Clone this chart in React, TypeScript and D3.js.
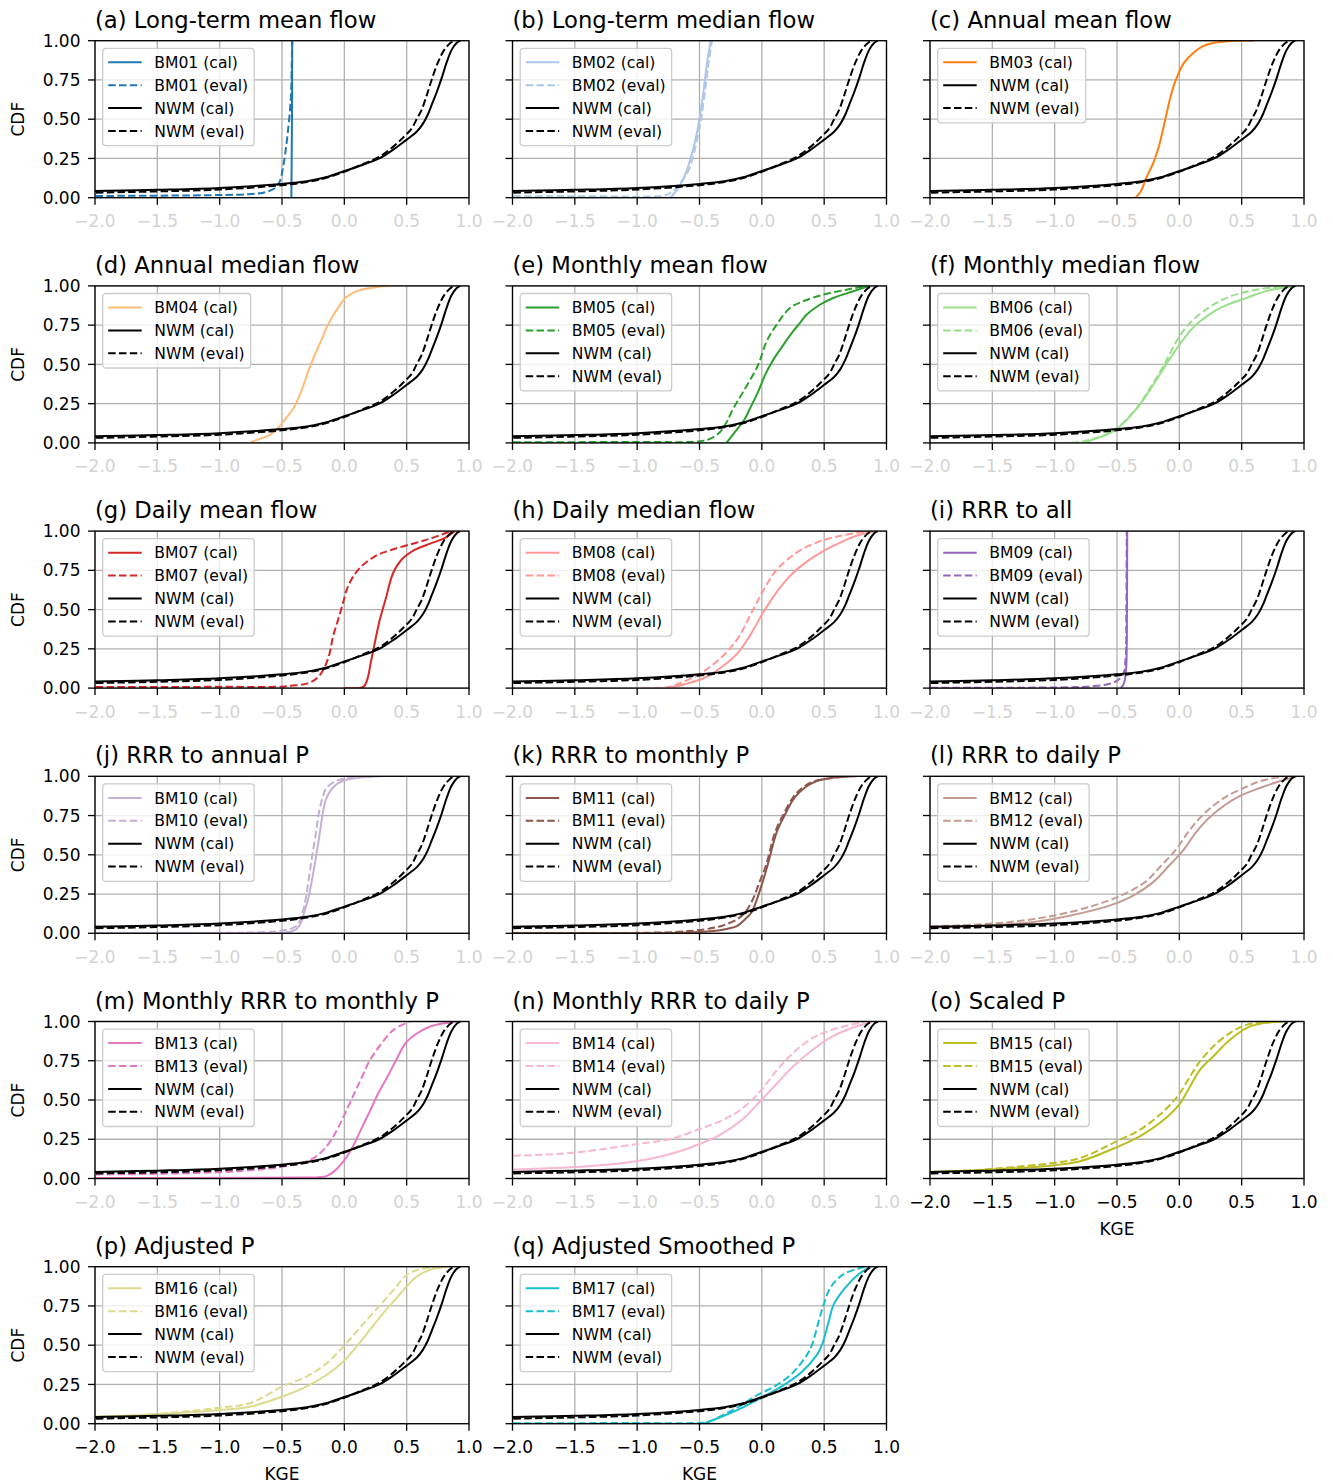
import React, { useEffect, useRef } from 'react';
import * as d3 from 'd3';

type Pt = [number, number];

// KGE / CDF pairs
const nwmCal: Pt[] = [[-2.6, 0.03], [-2, 0.042], [-1.5, 0.05], [-1, 0.062], [-0.5, 0.088], [-0.3, 0.105], [-0.15, 0.13], [0, 0.17], [0.15, 0.21], [0.28, 0.25], [0.4, 0.31], [0.5, 0.37], [0.58, 0.42], [0.63, 0.47], [0.67, 0.53], [0.7, 0.59], [0.74, 0.67], [0.78, 0.76], [0.82, 0.86], [0.86, 0.94], [0.9, 0.985], [0.93, 1.0]];
const nwmEval: Pt[] = [[-2.6, 0.02], [-2, 0.032], [-1.5, 0.04], [-1, 0.052], [-0.5, 0.08], [-0.3, 0.1], [-0.15, 0.125], [0, 0.165], [0.15, 0.215], [0.28, 0.26], [0.4, 0.33], [0.48, 0.39], [0.54, 0.44], [0.58, 0.5], [0.62, 0.56], [0.66, 0.65], [0.7, 0.75], [0.75, 0.86], [0.8, 0.94], [0.85, 0.985], [0.88, 1.0]];

const bm01Cal: Pt[] = [[-0.425, 0], [-0.42, 0.5], [-0.418, 1.0]];
const bm01Eval: Pt[] = [[-2.6, 0.01], [-2, 0.011], [-1, 0.017], [-0.75, 0.023], [-0.62, 0.038], [-0.56, 0.06], [-0.52, 0.1], [-0.49, 0.2], [-0.463, 0.35], [-0.43, 0.62], [-0.422, 0.85], [-0.418, 1.0]];
const bm02Cal: Pt[] = [[-0.735, 0], [-0.7, 0.03], [-0.667, 0.064], [-0.603, 0.171], [-0.547, 0.321], [-0.517, 0.428], [-0.474, 0.642], [-0.44, 0.857], [-0.41, 1.0]];
const bm02Eval: Pt[] = [[-2.6, 0.01], [-1.5, 0.01], [-0.8, 0.011], [-0.76, 0.02], [-0.7, 0.05], [-0.65, 0.1], [-0.59, 0.171], [-0.504, 0.428], [-0.462, 0.642], [-0.427, 0.857], [-0.4, 1.0]];
const bm03Cal: Pt[] = [[-0.35, 0], [-0.307, 0.043], [-0.264, 0.128], [-0.213, 0.214], [-0.166, 0.321], [-0.114, 0.493], [-0.071, 0.642], [-0.028, 0.75], [0.036, 0.857], [0.109, 0.92], [0.186, 0.964], [0.272, 0.985], [0.443, 1.0], [0.6, 1.0]];
const bm04Cal: Pt[] = [[-0.75, 0.005], [-0.7, 0.02], [-0.608, 0.047], [-0.538, 0.09], [-0.493, 0.133], [-0.41, 0.219], [-0.347, 0.326], [-0.27, 0.498], [-0.188, 0.648], [-0.13, 0.755], [-0.048, 0.863], [0.015, 0.927], [0.11, 0.97], [0.3, 0.997], [0.35, 1.0]];
const bm05Cal: Pt[] = [[-0.283, 0], [-0.217, 0.068], [-0.136, 0.154], [-0.096, 0.218], [-0.03, 0.325], [0.03, 0.44], [0.1, 0.54], [0.16, 0.61], [0.25, 0.71], [0.305, 0.763], [0.358, 0.816], [0.465, 0.88], [0.572, 0.923], [0.733, 0.966], [0.866, 1.0]];
const bm05Eval: Pt[] = [[-2.6, 0.004], [-1.0, 0.006], [-0.497, 0.01], [-0.417, 0.026], [-0.337, 0.068], [-0.283, 0.132], [-0.23, 0.218], [-0.15, 0.325], [-0.03, 0.496], [0.037, 0.645], [0.118, 0.752], [0.225, 0.859], [0.332, 0.902], [0.492, 0.944], [0.679, 0.976], [0.84, 1.0]];
const bm06Cal: Pt[] = [[-0.76, 0.002], [-0.7, 0.02], [-0.6, 0.047], [-0.5, 0.09], [-0.34, 0.22], [-0.245, 0.326], [-0.105, 0.5], [0.023, 0.65], [0.138, 0.755], [0.33, 0.86], [0.55, 0.927], [0.71, 0.97], [0.935, 1.0]];
const bm06Eval: Pt[] = [[-2.6, 0.004], [-0.8, 0.005], [-0.72, 0.02], [-0.6, 0.05], [-0.5, 0.095], [-0.34, 0.225], [-0.25, 0.33], [-0.12, 0.5], [-0.02, 0.65], [0.074, 0.755], [0.233, 0.86], [0.39, 0.927], [0.58, 0.97], [0.84, 1.0]];
const bm07Cal: Pt[] = [[0.0, 0.0], [0.135, 0.002], [0.162, 0.015], [0.189, 0.068], [0.21, 0.154], [0.237, 0.26], [0.283, 0.43], [0.336, 0.58], [0.39, 0.73], [0.457, 0.816], [0.564, 0.88], [0.698, 0.923], [0.804, 0.955], [0.885, 1.0]];
const bm07Eval: Pt[] = [[-2.6, 0.006], [-1.0, 0.008], [-0.507, 0.009], [-0.427, 0.015], [-0.293, 0.03], [-0.213, 0.068], [-0.159, 0.132], [-0.119, 0.218], [-0.092, 0.325], [-0.052, 0.43], [-0.012, 0.538], [0.028, 0.645], [0.109, 0.752], [0.242, 0.838], [0.376, 0.88], [0.564, 0.923], [0.698, 0.955], [0.858, 1.0]];
const bm08Cal: Pt[] = [[-0.74, 0.002], [-0.611, 0.026], [-0.452, 0.069], [-0.325, 0.133], [-0.197, 0.22], [-0.102, 0.326], [0.025, 0.5], [0.153, 0.648], [0.28, 0.755], [0.471, 0.863], [0.63, 0.927], [0.758, 0.97], [0.917, 1.0]];
const bm08Eval: Pt[] = [[-2.6, 0.004], [-0.76, 0.005], [-0.675, 0.026], [-0.548, 0.069], [-0.42, 0.133], [-0.293, 0.22], [-0.185, 0.326], [-0.07, 0.5], [0.03, 0.648], [0.12, 0.755], [0.28, 0.863], [0.44, 0.927], [0.63, 0.97], [0.854, 1.0]];
const bm09Cal: Pt[] = [[-0.47, 0.002], [-0.45, 0.02], [-0.435, 0.06], [-0.425, 0.15], [-0.42, 0.5], [-0.418, 1.0]];
const bm09Eval: Pt[] = [[-2.6, 0.004], [-0.9, 0.005], [-0.7, 0.012], [-0.564, 0.026], [-0.5, 0.047], [-0.45, 0.09], [-0.43, 0.2], [-0.425, 0.5], [-0.422, 1.0]];
const bm10Cal: Pt[] = [[-2.6, 0.001], [-0.6, 0.002], [-0.46, 0.006], [-0.385, 0.026], [-0.347, 0.069], [-0.322, 0.133], [-0.29, 0.22], [-0.239, 0.43], [-0.195, 0.648], [-0.175, 0.755], [-0.143, 0.863], [-0.093, 0.927], [-0.017, 0.97], [0.11, 0.99], [0.3, 1.0]];
const bm10Eval: Pt[] = [[-2.6, 0.004], [-0.7, 0.006], [-0.525, 0.015], [-0.385, 0.047], [-0.335, 0.133], [-0.31, 0.22], [-0.27, 0.43], [-0.226, 0.648], [-0.207, 0.755], [-0.175, 0.863], [-0.143, 0.927], [-0.067, 0.97], [0.047, 0.99], [0.24, 1.0]];
const bm11Cal: Pt[] = [[-2.6, 0.002], [-0.64, 0.004], [-0.39, 0.015], [-0.293, 0.026], [-0.197, 0.047], [-0.134, 0.09], [-0.083, 0.133], [-0.038, 0.22], [0.006, 0.326], [0.045, 0.43], [0.121, 0.648], [0.185, 0.755], [0.261, 0.863], [0.344, 0.927], [0.44, 0.97], [0.567, 0.99], [0.758, 1.0]];
const bm11Eval: Pt[] = [[-2.6, 0.004], [-0.7, 0.008], [-0.452, 0.026], [-0.325, 0.047], [-0.197, 0.09], [-0.134, 0.133], [-0.07, 0.22], [-0.019, 0.326], [0.032, 0.43], [0.108, 0.648], [0.172, 0.755], [0.248, 0.863], [0.325, 0.927], [0.427, 0.97], [0.694, 1.0]];
const bm12Cal: Pt[] = [[-2.6, 0.025], [-2, 0.036], [-1.585, 0.047], [-1.2, 0.069], [-0.88, 0.112], [-0.56, 0.176], [-0.37, 0.24], [-0.21, 0.326], [-0.083, 0.43], [0.042, 0.54], [0.138, 0.648], [0.266, 0.755], [0.457, 0.863], [0.65, 0.927], [0.81, 0.97], [0.936, 1.0]];
const bm12Eval: Pt[] = [[-2.6, 0.03], [-2, 0.043], [-1.394, 0.069], [-1.01, 0.112], [-0.69, 0.176], [-0.47, 0.24], [-0.275, 0.326], [-0.147, 0.43], [-0.02, 0.54], [0.074, 0.648], [0.19, 0.755], [0.36, 0.863], [0.52, 0.927], [0.65, 0.97], [0.84, 1.0]];
const bm13Cal: Pt[] = [[-2.6, 0.004], [-0.3, 0.006], [-0.207, 0.008], [-0.144, 0.015], [-0.08, 0.047], [0.015, 0.133], [0.079, 0.22], [0.142, 0.326], [0.206, 0.43], [0.27, 0.54], [0.346, 0.648], [0.416, 0.755], [0.492, 0.863], [0.587, 0.927], [0.695, 0.97], [0.905, 1.0]];
const bm13Eval: Pt[] = [[-2.6, 0.022], [-2, 0.026], [-1.48, 0.03], [-0.84, 0.047], [-0.46, 0.08], [-0.27, 0.12], [-0.175, 0.176], [-0.11, 0.24], [-0.048, 0.326], [0.015, 0.43], [0.079, 0.54], [0.142, 0.648], [0.206, 0.755], [0.301, 0.863], [0.397, 0.948], [0.524, 1.0]];
const bm14Cal: Pt[] = [[-2.6, 0.045], [-2, 0.058], [-1.5, 0.073], [-0.994, 0.112], [-0.739, 0.155], [-0.497, 0.22], [-0.325, 0.283], [-0.166, 0.369], [-0.006, 0.498], [0.121, 0.605], [0.248, 0.712], [0.408, 0.82], [0.567, 0.905], [0.726, 0.96], [0.885, 1.0]];
const bm14Eval: Pt[] = [[-2.6, 0.13], [-2, 0.144], [-1.5, 0.165], [-0.994, 0.22], [-0.739, 0.25], [-0.497, 0.316], [-0.325, 0.369], [-0.166, 0.44], [-0.006, 0.562], [0.121, 0.69], [0.248, 0.798], [0.408, 0.895], [0.567, 0.948], [0.822, 1.0]];
const bm15Cal: Pt[] = [[-2.6, 0.035], [-2, 0.042], [-1.5, 0.057], [-1.0, 0.085], [-0.796, 0.11], [-0.5, 0.2], [-0.314, 0.27], [-0.154, 0.355], [-0.047, 0.43], [0.007, 0.48], [0.087, 0.588], [0.167, 0.694], [0.275, 0.78], [0.408, 0.885], [0.542, 0.96], [0.676, 0.99], [0.863, 1.0]];
const bm15Eval: Pt[] = [[-2.6, 0.03], [-2, 0.036], [-1.5, 0.062], [-1.0, 0.1], [-0.796, 0.13], [-0.5, 0.238], [-0.314, 0.312], [-0.154, 0.408], [-0.047, 0.493], [0.007, 0.546], [0.087, 0.652], [0.167, 0.747], [0.275, 0.843], [0.408, 0.928], [0.542, 0.98], [0.756, 1.0]];
const bm16Cal: Pt[] = [[-2.6, 0.035], [-2, 0.045], [-1.5, 0.06], [-1.0, 0.087], [-0.758, 0.108], [-0.5, 0.172], [-0.304, 0.236], [-0.143, 0.31], [-0.01, 0.395], [0.097, 0.49], [0.204, 0.597], [0.311, 0.703], [0.418, 0.799], [0.498, 0.873], [0.578, 0.936], [0.685, 0.98], [0.819, 1.0]];
const bm16Eval: Pt[] = [[-2.6, 0.025], [-2, 0.034], [-1.5, 0.062], [-1.0, 0.102], [-0.758, 0.13], [-0.5, 0.236], [-0.304, 0.3], [-0.143, 0.384], [-0.01, 0.49], [0.097, 0.586], [0.204, 0.682], [0.311, 0.777], [0.418, 0.873], [0.498, 0.947], [0.605, 0.983], [0.738, 1.0]];
const bm17Cal: Pt[] = [[-0.47, 0.0], [-0.36, 0.032], [-0.173, 0.096], [-0.066, 0.139], [0.028, 0.18], [0.175, 0.246], [0.32, 0.33], [0.443, 0.44], [0.483, 0.503], [0.537, 0.653], [0.577, 0.76], [0.67, 0.867], [0.778, 0.953], [0.87, 1.0]];
const bm17Eval: Pt[] = [[-2.6, 0.003], [-1.0, 0.004], [-0.5, 0.005], [-0.44, 0.01], [-0.213, 0.096], [-0.04, 0.18], [0.12, 0.246], [0.255, 0.33], [0.363, 0.44], [0.403, 0.503], [0.456, 0.653], [0.497, 0.76], [0.55, 0.867], [0.657, 0.953], [0.83, 1.0]];

const panelTitles = [
  '(a) Long-term mean flow', '(b) Long-term median flow', '(c) Annual mean flow',
  '(d) Annual median flow', '(e) Monthly mean flow', '(f) Monthly median flow',
  '(g) Daily mean flow', '(h) Daily median flow', '(i) RRR to all',
  '(j) RRR to annual P', '(k) RRR to monthly P', '(l) RRR to daily P',
  '(m) Monthly RRR to monthly P', '(n) Monthly RRR to daily P', '(o) Scaled P',
  '(p) Adjusted P', '(q) Adjusted Smoothed P',
];
const bmNames = ['BM01', 'BM02', 'BM03', 'BM04', 'BM05', 'BM06', 'BM07', 'BM08', 'BM09', 'BM10', 'BM11', 'BM12', 'BM13', 'BM14', 'BM15', 'BM16', 'BM17'];
const bmColors = ['#1f77b4', '#aec7e8', '#ff7f0e', '#ffbb78', '#2ca02c', '#98df8a', '#d62728', '#ff9896', '#9467bd', '#c5b0d5', '#8c564b', '#c49c94', '#e377c2', '#f7b6d2', '#bcbd22', '#dbdb8d', '#17becf'];
const calCurves = [bm01Cal, bm02Cal, bm03Cal, bm04Cal, bm05Cal, bm06Cal, bm07Cal, bm08Cal, bm09Cal, bm10Cal, bm11Cal, bm12Cal, bm13Cal, bm14Cal, bm15Cal, bm16Cal, bm17Cal];
const evalCurves = [bm01Eval, bm02Eval, null, null, bm05Eval, bm06Eval, bm07Eval, bm08Eval, bm09Eval, bm10Eval, bm11Eval, bm12Eval, bm13Eval, bm14Eval, bm15Eval, bm16Eval, bm17Eval];

const kgeTicks = [-2, -1.5, -1, -0.5, 0, 0.5, 1];
const cdfTicks = [0, 0.25, 0.5, 0.75, 1];

const FONT = 'DejaVu Sans, sans-serif';

export default function App() {
  const ref = useRef<SVGSVGElement>(null);
  useEffect(() => {
    const svg = d3.select(ref.current);
    svg.selectAll('*').remove();
    const colX = [95, 512.5, 930], rowY0 = 40.7, rowStep = 245.2, pw = 374, ph = 157;
    const x = d3.scaleLinear().domain([-2, 1]).range([0, pw]);
    const y = d3.scaleLinear().domain([0, 1]).range([ph, 0]);
    const line = d3.line<Pt>().x(d => x(d[0])).y(d => y(d[1])).curve(d3.curveCatmullRom.alpha(0.5));
    const fx = d3.format('.1f'), fy = d3.format('.2f');
    const LW = 2, DASH = '7.5,3.3', TICK = 7, TF = 17;

    panelTitles.forEach((title, i) => {
      const col = i % 3, row = Math.floor(i / 3);
      const bottom = i >= 14;
      const g = svg.append('g').attr('transform', `translate(${colX[col]},${rowY0 + row * rowStep})`);
      const clipId = `clip${i}`;
      g.append('clipPath').attr('id', clipId).append('rect').attr('width', pw).attr('height', ph);

      // grid
      g.selectAll('.gx').data(kgeTicks).join('line').attr('x1', d => x(d)).attr('x2', d => x(d)).attr('y1', 0).attr('y2', ph)
        .attr('stroke', '#b0b0b0').attr('stroke-width', 1.3);
      g.selectAll('.gy').data(cdfTicks).join('line').attr('x1', 0).attr('x2', pw).attr('y1', d => y(d)).attr('y2', d => y(d))
        .attr('stroke', '#b0b0b0').attr('stroke-width', 1.3);

      // curves
      const cg = g.append('g').attr('clip-path', `url(#${clipId})`);
      const series: { name: string; data: Pt[]; color: string; dash: boolean }[] = [];
      series.push({ name: `${bmNames[i]} (cal)`, data: calCurves[i], color: bmColors[i], dash: false });
      if (evalCurves[i]) series.push({ name: `${bmNames[i]} (eval)`, data: evalCurves[i] as Pt[], color: bmColors[i], dash: true });
      series.push({ name: 'NWM (cal)', data: nwmCal, color: '#000', dash: false });
      series.push({ name: 'NWM (eval)', data: nwmEval, color: '#000', dash: true });
      series.forEach(s => {
        cg.append('path').datum(s.data).attr('d', line).attr('fill', 'none').attr('stroke', s.color)
          .attr('stroke-width', LW).attr('stroke-dasharray', s.dash ? DASH : null);
      });

      // frame
      g.append('rect').attr('width', pw).attr('height', ph).attr('fill', 'none').attr('stroke', '#000').attr('stroke-width', 1.3);

      // x ticks
      kgeTicks.forEach(t => {
        g.append('line').attr('x1', x(t)).attr('x2', x(t)).attr('y1', ph).attr('y2', ph + TICK).attr('stroke', '#000').attr('stroke-width', 1.3);
        g.append('text').attr('x', x(t)).attr('y', ph + 29.5).attr('text-anchor', 'middle').attr('font-family', FONT)
          .attr('font-size', TF).attr('fill', bottom ? '#000' : '#d3d3d3').text(fx(t));
      });
      // y ticks
      cdfTicks.forEach(t => {
        g.append('line').attr('x1', -TICK).attr('x2', 0).attr('y1', y(t)).attr('y2', y(t)).attr('stroke', '#000').attr('stroke-width', 1.3);
        if (col === 0) {
          g.append('text').attr('x', -14.5).attr('y', y(t)).attr('dy', '0.36em').attr('text-anchor', 'end').attr('font-family', FONT)
            .attr('font-size', TF).attr('fill', '#000').text(fy(t));
        }
      });
      if (col === 0) {
        g.append('text').attr('transform', `translate(${-71},${ph / 2}) rotate(-90)`).attr('text-anchor', 'middle')
          .attr('font-family', FONT).attr('font-size', 17).text('CDF');
      }
      if (bottom) {
        g.append('text').attr('x', pw / 2).attr('y', ph + 56).attr('text-anchor', 'middle')
          .attr('font-family', FONT).attr('font-size', 17).text('KGE');
      }
      // title
      g.append('text').attr('x', 0).attr('y', -13).attr('font-family', FONT).attr('font-size', 22.7).attr('fill', '#000').text(title);

      // legend
      const lg = g.append('g').attr('transform', 'translate(7.7,7.6)');
      const box = lg.append('rect').attr('rx', 3).attr('fill', '#fff').attr('fill-opacity', 0.8)
        .attr('stroke', '#cccccc').attr('stroke-width', 1.3);
      let maxW = 0;
      series.forEach((s, k) => {
        const cy = 14 + k * 22.9;
        lg.append('line').attr('x1', 5.5).attr('x2', 39).attr('y1', cy).attr('y2', cy).attr('stroke', s.color)
          .attr('stroke-width', LW).attr('stroke-dasharray', s.dash ? DASH : null);
        const t = lg.append('text').attr('x', 51.6).attr('y', cy).attr('dy', '0.36em').attr('font-family', FONT)
          .attr('font-size', 15.6).attr('fill', '#000').text(s.name);
        const node = t.node() as SVGTextElement;
        maxW = Math.max(maxW, node.getComputedTextLength());
      });
      box.attr('width', 51.6 + maxW + 6).attr('height', 28.7 + (series.length - 1) * 22.9);
    });
  }, []);
  return (
    <svg ref={ref} width={1333} height={1484} style={{ position: 'absolute', left: 0, top: 0, background: '#fff' }} />
  );
}
